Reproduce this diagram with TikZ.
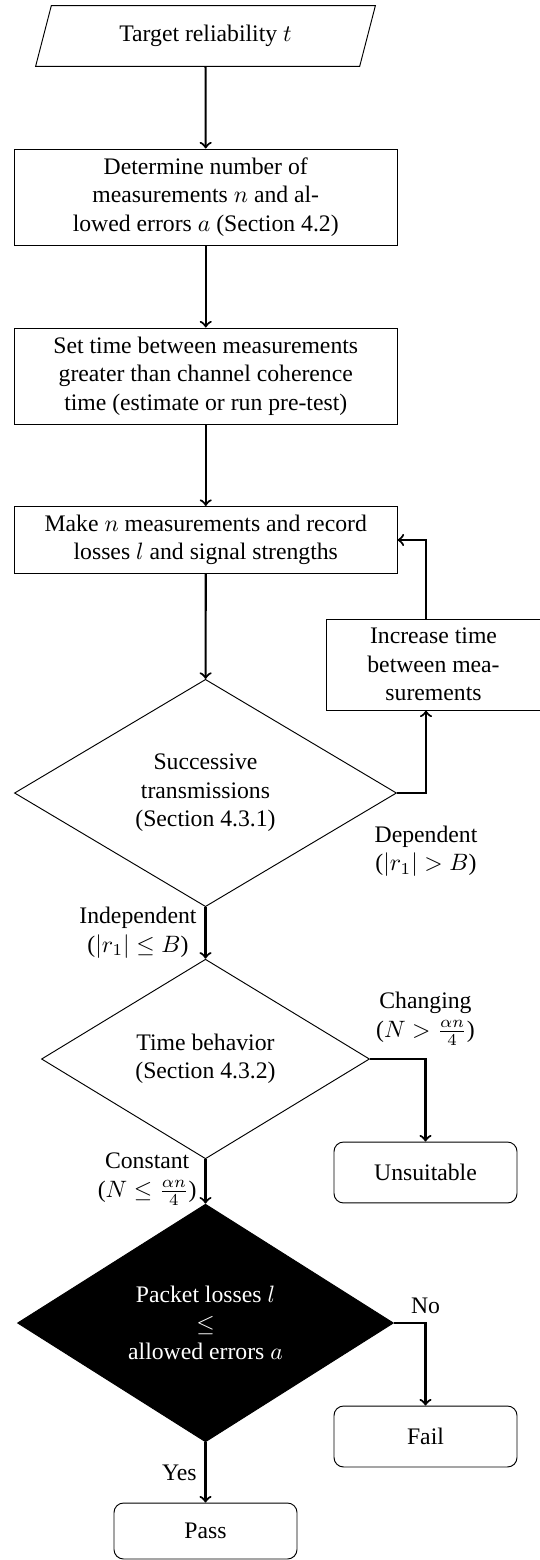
\documentclass[tikz,border=0pt]{standalone}
\usepackage{fontspec}
\setmainfont{Liberation Serif}
\usetikzlibrary{shapes.geometric}

\begin{document}
\begin{tikzpicture}[x=0.4219pt, y=-0.4219pt,
    io/.style={trapezium, trapezium left angle=71, trapezium right angle=109, trapezium stretches=true, draw, minimum width=143.9pt, minimum height=25.7pt, inner sep=1pt},
    process/.style={rectangle, draw, align=center, minimum width=161.4pt, inner sep=2pt},
    decision/.style={diamond, draw, align=center, inner sep=1pt},
    terminal/.style={rectangle, rounded corners=4pt, draw, minimum width=77.2pt, minimum height=25.7pt},
    arrow/.style={->, line width=0.9pt}]
    \useasboundingbox (0,0) rectangle (539,1560);

    % Input
    \node[io] (target) at (205.5,36) {Target reliability $t$};

    % Preparation steps
    \node[process, minimum height=40.5pt] (number) at (205.75,197) {Determine number of\\measurements $n$ and al-\\lowed errors $a$ (Section 4.2)};
    \node[process, minimum height=40.5pt] (settime) at (205.75,376) {Set time between measurements\\greater than channel coherence\\time (estimate or run pre-test)};
    \node[process, minimum height=28.3pt] (measure) at (205.75,540) {Make $n$ measurements and record\\losses $l$ and signal strengths};

    % Loop back
    \node[process, minimum width=90.7pt, minimum height=38.4pt] (increase) at (433.5,664.5) {Increase time\\between mea-\\surements};
    \coordinate (col) at (426,0);

    % Decisions
    \node[decision, minimum width=161.2pt, minimum height=82.7pt] (successive) at (205.5,793) {Successive\\transmissions\\(Section 4.3.1)};
    \node[decision, minimum width=138.4pt, minimum height=70.9pt] (timebeh) at (205.5,1059) {Time behavior\\(Section 4.3.2)};
    \node[decision, fill=black, text=white, minimum width=158.6pt, minimum height=81pt] (losses) at (205.5,1323) {Packet losses $l$\\$\leq$\\allowed errors $a$};

    % Outcomes
    \node[terminal] (unsuitable) at (425.5,1172.5) {Unsuitable};
    \node[terminal] (fail) at (425.5,1436.5) {Fail};
    \node[terminal, minimum height=23.6pt] (pass) at (205.5,1531) {Pass};

    % Arrows
    \draw[arrow] (target) -- (number);
    \draw[arrow] (number) -- (settime);
    \draw[arrow] (settime) -- (measure);
    \draw[arrow] (measure) -- (successive);
    \draw[arrow] (successive.east) -| node[pos=0.5, below=10pt, align=center] {Dependent\\($|r_1| > B$)} (col |- increase.south);
    \draw[arrow] (col |- increase.north) |- (measure.east);
    \draw[arrow] (successive.south) -- node[midway, left, align=center] {Independent\\($|r_1| \leq B$)} (timebeh.north);
    \draw[arrow] (timebeh.east) -| node[pos=0.5, above=2pt, align=center] {Changing\\($N > \frac{\alpha n}{4}$)} (unsuitable.north);
    \draw[arrow] (timebeh.south) -- node[pos=0.45, left, align=center] {Constant\\($N \leq \frac{\alpha n}{4}$)} (losses.north);
    \draw[arrow] (losses.east) -| node[pos=0.5, above] {No} (fail.north);
    \draw[arrow] (losses.south) -- node[midway, left] {Yes} (pass.north);
\end{tikzpicture}
\end{document}
